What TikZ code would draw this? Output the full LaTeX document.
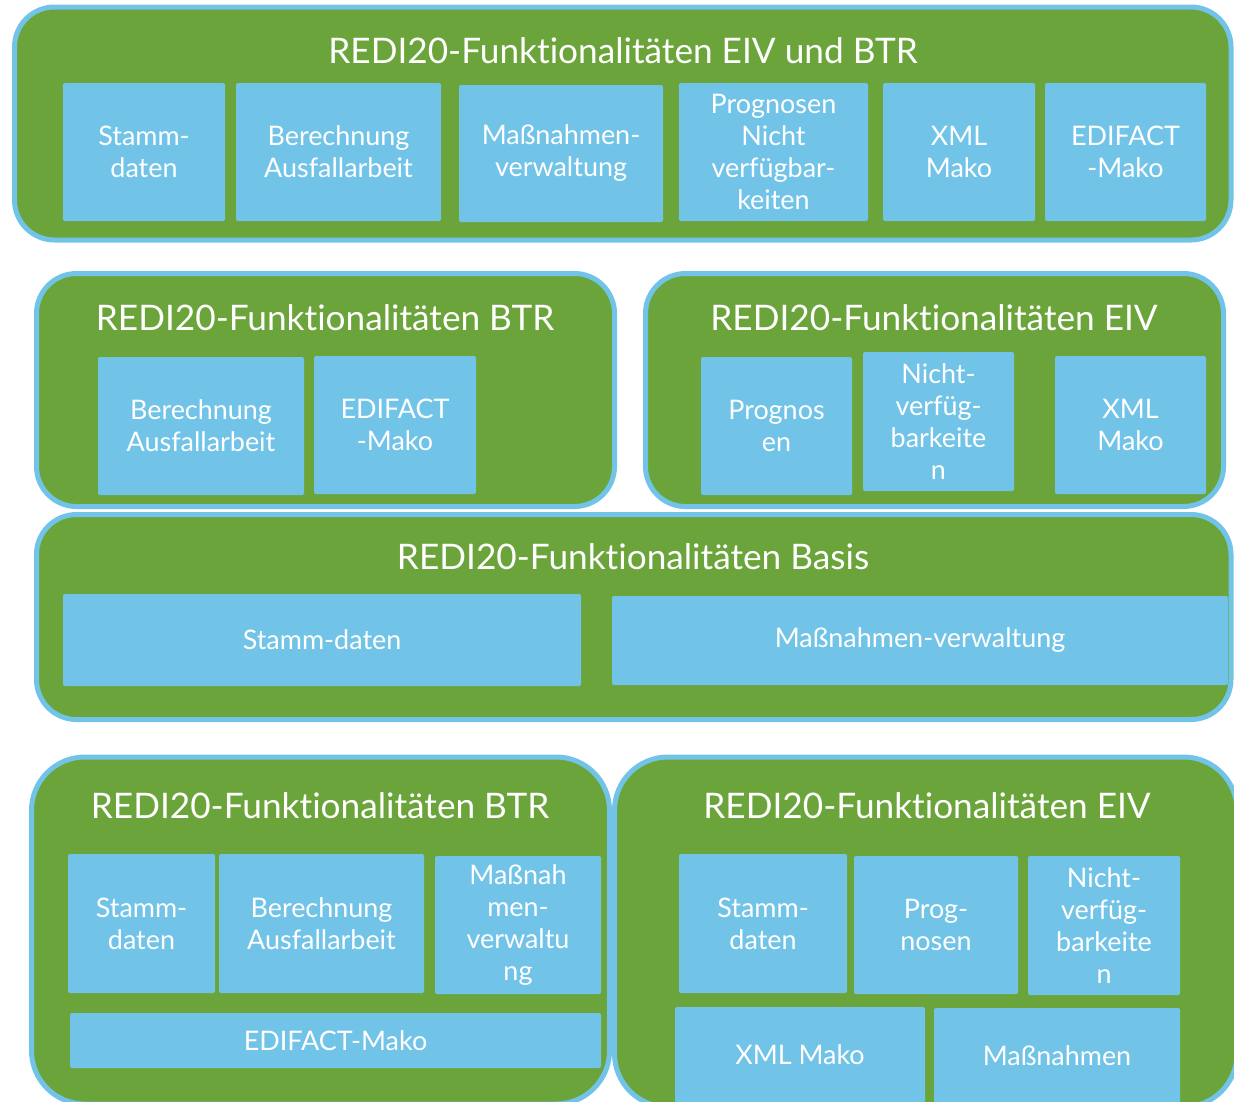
\documentclass[tikz,border=0pt]{standalone}
\usepackage{fontspec}
\setmainfont{Lato}[Ligatures=NoCommon]
\usetikzlibrary{fit}
\definecolor{panelgreen}{HTML}{6BA43A}
\definecolor{tileblue}{HTML}{71C4E8}
\tikzset{
  panel/.style={draw=tileblue, fill=panelgreen, line width=3.75pt, rounded corners=30pt, inner sep=0pt},
  widepanel/.style={panel, rounded corners=40pt},
  tile/.style={fill=tileblue, rounded corners=1.5pt, inner sep=0pt, text=white, align=center,
               font=\fontsize{20.2}{24}\selectfont},
  heading/.style={text=white, anchor=base, inner sep=0pt, font=\fontsize{26.4}{30}\selectfont},
}
% a tile given by its corners in pixel units
\newcommand\tilebox[6]{%
  \pgfmathsetmacro\tilew{(#4-#2)*0.75}%
  \pgfmathsetmacro\tileh{(#5-#3)*0.75}%
  \node[tile, minimum width=\tilew pt, minimum height=\tileh pt] (#1)
    at ({(#2+#4)/2},{(#3+#5)/2}) {#6};}
\begin{document}
\begin{tikzpicture}[x=0.75pt, y=-0.75pt]
\useasboundingbox (0,0) rectangle (1234,1101);
\clip (0,0) rectangle (1234,1101);

% --- combined EIV and BTR functions
\node[panel, fit={(14.5,7)(1231,240)}] (p1) {};
\node[heading] (h1) at (623,63) {REDI20-Funktionalitäten EIV und BTR};
\tilebox{p1a}{63}{83}{225}{221}{Stamm-\\daten}
\tilebox{p1b}{236}{83}{441}{221}{Berechnung\\Ausfallarbeit}
\tilebox{p1c}{459}{85}{663}{222}{Maßnahmen-\\verwaltung}
\tilebox{p1d}{679}{83}{868}{221}{Prognosen\\Nicht\\verfügbar-\\keiten}
\tilebox{p1e}{883}{83}{1035}{221}{XML\\Mako}
\tilebox{p1f}{1045}{83}{1206}{221}{EDIFACT\\-Mako}

% --- BTR functions (middle row)
\node[panel, fit={(36.5,273.5)(614.5,506.5)}] (p2) {};
\node[heading] (h2) at (325,330) {REDI20-Funktionalitäten BTR};
\tilebox{p2a}{98}{357}{304}{495}{Berechnung\\Ausfallarbeit}
\tilebox{p2b}{314}{356}{476}{494}{EDIFACT\\-Mako}

% --- EIV functions (middle row)
\node[panel, fit={(645.5,273.5)(1223.5,506.5)}] (p3) {};
\node[heading] (h3) at (934,330) {REDI20-Funktionalitäten EIV};
\tilebox{p3a}{701}{357}{852}{495}{Prognos\\en}
\tilebox{p3b}{863}{352}{1014}{491}{Nicht-\\verfüg-\\barkeite\\n}
\tilebox{p3c}{1055}{356}{1206}{494}{XML\\Mako}

% --- base functions
\node[panel, fit={(36.5,514.5)(1231,719.5)}] (p4) {};
\node[heading] (h4) at (633,569) {REDI20-Funktionalitäten Basis};
\tilebox{p4a}{63}{594}{581}{686}{Stamm-daten}
\tilebox{p4b}{612}{596}{1228}{685}{Maßnahmen-verwaltung}

% --- BTR functions (bottom row)
\node[widepanel, fit={(31.5,757)(609.5,1104)}] (p5) {};
\node[heading] (h5) at (320,818) {REDI20-Funktionalitäten BTR};
\tilebox{p5a}{68}{854}{215}{993}{Stamm-\\daten}
\tilebox{p5b}{219}{854}{424}{993}{Berechnung\\Ausfallarbeit}
\tilebox{p5c}{435}{856}{601}{994}{Maßnah\\men-\\verwaltu\\ng}
\tilebox{p5d}{70}{1013}{601}{1068}{EDIFACT-Mako}

% --- EIV functions (bottom row)
\node[widepanel, fit={(614.5,757)(1237,1107)}] (p6) {};
\node[heading] (h6) at (927,818) {REDI20-Funktionalitäten EIV};
\tilebox{p6a}{679}{854}{847}{993}{Stamm-\\daten}
\tilebox{p6b}{854}{856}{1018}{994}{Prog-\\nosen}
\tilebox{p6c}{1028}{856}{1180}{995}{Nicht-\\verfüg-\\barkeite\\n}
\tilebox{p6d}{675}{1007}{925}{1103}{XML Mako}
\tilebox{p6e}{934}{1008}{1180}{1104}{Maßnahmen}
\end{tikzpicture}
\end{document}
